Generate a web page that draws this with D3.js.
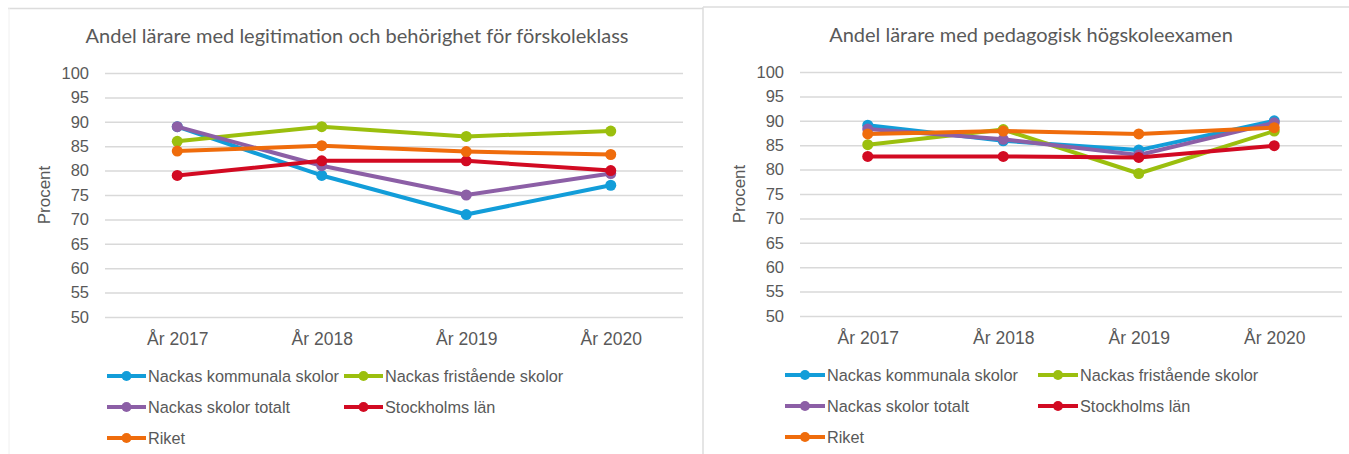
<!DOCTYPE html>
<html>
<head>
<meta charset="utf-8">
<script src="https://cdnjs.cloudflare.com/ajax/libs/d3/7.8.5/d3.min.js"></script>
<style>
  body { margin: 0; background: #fff; }
  svg { display: block; }
  .tick text { fill: #595959; font-family: "Liberation Sans", Arial, sans-serif; font-size: 16.5px; }
  .xax .tick text { font-size: 17.5px; }
</style>
</head>
<body>
<svg id="chart" width="1349" height="454"></svg>
<script>
// kategorier och serier
var years = ["År 2017", "År 2018", "År 2019", "År 2020"];
var seriesNames = ["Nackas kommunala skolor", "Nackas fristående skolor", "Nackas skolor totalt", "Stockholms län", "Riket"];
var yTicks = [50, 55, 60, 65, 70, 75, 80, 85, 90, 95, 100];

// Andel lärare med legitimation och behörighet för förskoleklass
var legKommunala = [89, 79, 71, 77];
var legFristaende = [86, 89, 87, 88.1];
var legTotalt = [89, 81, 75, 79.4];
var legStockholm = [79, 82, 82, 80];
var legRiket = [84, 85.1, 83.9, 83.3];

// Andel lärare med pedagogisk högskoleexamen
var pedKommunala = [89.1, 85.9, 84, 90];
var pedFristaende = [85.1, 88.2, 79.2, 87.9];
var pedTotalt = [88.3, 86.2, 83, 89.6];
var pedStockholm = [82.7, 82.7, 82.5, 84.9];
var pedRiket = [87.3, 87.9, 87.3, 88.6];

var colors = ["#129dd9", "#9bbf0e", "#8c5fa6", "#d20a22", "#ef6c0c"];

var svg = d3.select("#chart");

// ramar runt panelerna
svg.append("line").attr("x1", 8).attr("x2", 703).attr("y1", 8.5).attr("y2", 8.5)
    .attr("stroke", "#dcdcdc").attr("stroke-width", 1.5);
svg.append("line").attr("x1", 9).attr("x2", 9).attr("y1", 8).attr("y2", 454)
    .attr("stroke", "#f0f0f0").attr("stroke-width", 1);
svg.append("line").attr("x1", 703).attr("x2", 1349).attr("y1", 7).attr("y2", 7)
    .attr("stroke", "#dcdcdc").attr("stroke-width", 1.5);
svg.append("line").attr("x1", 703).attr("x2", 703).attr("y1", 7).attr("y2", 454)
    .attr("stroke", "#dcdcdc").attr("stroke-width", 1.5);

function drawChart(cfg) {
    var x = d3.scalePoint().domain(years).range([cfg.left, cfg.right]).padding(0.5);
    var y = d3.scaleLinear().domain([50, 100]).range([cfg.bottom, cfg.top]);

    svg.append("text")
        .attr("x", cfg.titleX).attr("y", cfg.titleY)
        .attr("text-anchor", "middle")
        .attr("fill", "#595959")
        .style("font-family", "Lato, 'Open Sans', sans-serif")
        .style("font-size", "20px")
        .text(cfg.title);

    var gy = svg.append("g")
        .attr("transform", "translate(" + cfg.left + ",0)")
        .call(d3.axisLeft(y).tickValues(yTicks).tickSize(-(cfg.right - cfg.left)).tickPadding(16));
    gy.select(".domain").remove();
    gy.selectAll(".tick line").attr("stroke", "#d9d9d9").attr("stroke-width", 1.5);

    var gx = svg.append("g")
        .attr("class", "xax")
        .attr("transform", "translate(0," + cfg.bottom + ")")
        .call(d3.axisBottom(x).tickSize(0).tickPadding(16));
    gx.select(".domain").remove();

    svg.append("text")
        .attr("transform", "translate(" + cfg.ylabX + "," + ((cfg.top + cfg.bottom) / 2) + ") rotate(-90)")
        .attr("text-anchor", "middle")
        .attr("dy", "0.35em")
        .attr("fill", "#595959")
        .style("font-family", "'Liberation Sans', Arial, sans-serif")
        .style("font-size", "17px")
        .text("Procent");

    var line = d3.line()
        .x(function (d, i) { return x(years[i]); })
        .y(function (d) { return y(d); });

    cfg.series.forEach(function (vals, k) {
        svg.append("path")
            .datum(vals)
            .attr("fill", "none")
            .attr("stroke", colors[k])
            .attr("stroke-width", 4)
            .attr("stroke-linejoin", "round")
            .attr("d", line);
        svg.append("g").selectAll("circle")
            .data(vals)
            .enter().append("circle")
            .attr("cx", function (d, i) { return x(years[i]); })
            .attr("cy", function (d) { return y(d); })
            .attr("r", 5.5)
            .attr("fill", colors[k]);
    });

    // legend
    seriesNames.forEach(function (name, k) {
        var col = k % 2, row = Math.floor(k / 2);
        var lx = cfg.legX[col], ly = cfg.legY[row];
        var g = svg.append("g").attr("transform", "translate(" + lx + "," + ly + ")");
        g.append("line").attr("x1", 0).attr("x2", cfg.legLine)
            .attr("stroke", colors[k]).attr("stroke-width", 4);
        g.append("circle").attr("cx", cfg.legLine / 2).attr("r", 5).attr("fill", colors[k]);
        g.append("text")
            .attr("x", cfg.legLine + 2)
            .attr("dy", "0.35em")
            .attr("fill", "#595959")
            .style("font-family", "'Liberation Sans', Arial, sans-serif")
            .style("font-size", "16.3px")
            .text(name);
    });
}

drawChart({
    title: "Andel lärare med legitimation och behörighet för förskoleklass",
    titleX: 357, titleY: 43,
    left: 105, right: 683, top: 73, bottom: 317,
    ylabX: 44,
    legX: [107, 344], legY: [376, 407, 438], legLine: 39,
    series: [legKommunala, legFristaende, legTotalt, legStockholm, legRiket]
});

drawChart({
    title: "Andel lärare med pedagogisk högskoleexamen",
    titleX: 1031, titleY: 42,
    left: 800, right: 1342, top: 72, bottom: 316,
    ylabX: 739,
    legX: [785, 1038], legY: [375, 406, 437], legLine: 40,
    series: [pedKommunala, pedFristaende, pedTotalt, pedStockholm, pedRiket]
});
</script>
</body>
</html>
